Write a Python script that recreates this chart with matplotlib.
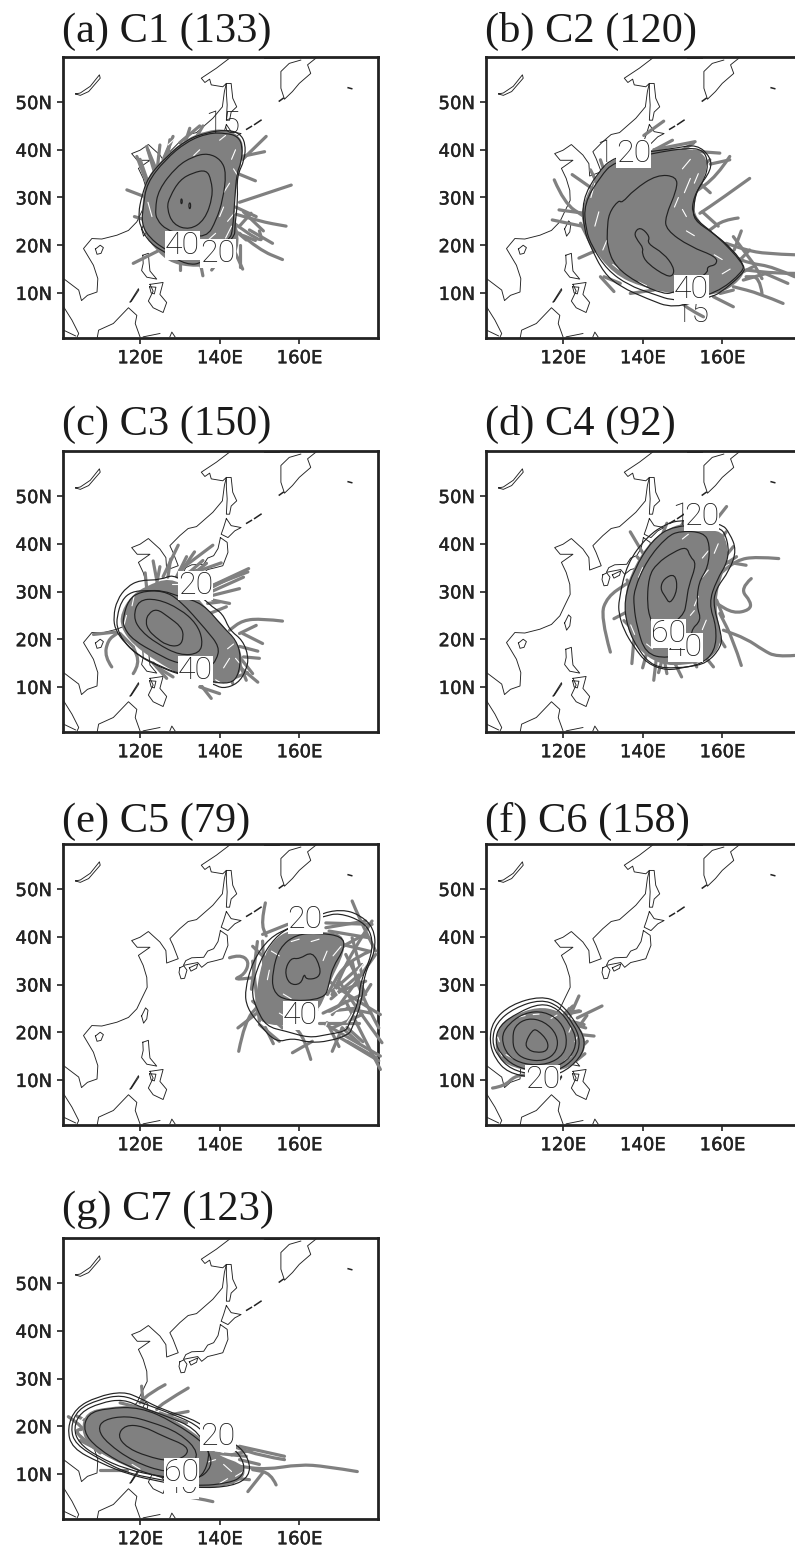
#!/usr/bin/env python3
"""Seven-panel track density maps C1-C7 (lon/lat read off the picture)."""
import matplotlib
matplotlib.use('Agg')
import matplotlib.pyplot as plt
import matplotlib.patheffects as pe
from matplotlib.path import Path
from matplotlib.patches import PathPatch

W, H = 795, 1551
GRAY = '#808080'
INK = '#222222'

# ── tick values ────────────────────────────────────────────────────────────
LON_TICKS = [120, 140, 160]
LON_LABELS = ['120E', '140E', '160E']
LAT_TICKS = [10, 20, 30, 40, 50]
LAT_LABELS = ['10N', '20N', '30N', '40N', '50N']

# ── coastlines, (lon, lat) ─────────────────────────────────────────────────
MAINLAND = [(142.5, 59.2), (139.2, 57.1), (135.4, 55), (136.3, 54.1), (137.5, 54.8), (137.9, 53.6),
            (140.8, 53.2), (141.7, 53.9), (141.2, 52.2), (140.7, 49), (138.3, 46.6), (134.2, 43.6),
            (132.1, 43.2), (130, 41.7), (127.5, 39.6), (128.3, 38.2), (129.6, 35.4), (126.7, 34.5),
            (126.5, 37.1), (125, 38.9), (122.1, 41.1), (120, 39.9), (117.9, 39.2), (119.3, 37.8),
            (122.5, 37.8), (119.6, 36.1), (120.8, 34), (121.7, 31.5), (121.8, 29.4), (120.4, 27),
            (119.2, 24.9), (117.1, 23.1), (114.2, 22.1), (110.4, 21.3), (107.9, 21.4), (105.8, 19.3),
            (108.3, 15.8), (109.4, 13), (109.2, 10.2), (106.8, 9.5), (105.3, 8.4), (104.6, 10.6),
            (100.8, 13)]
MALAY = [(100.8, 7.1), (102.9, 4.3), (104.6, 1.5), (104.2, 0.8)]
SUMATRA = [(100.8, 2.2), (103.8, 1)]
BORNEO = [(109.2, 0.4), (109.6, 2.2), (113.3, 3.6), (117.1, 6.9), (119.2, 5.3), (118.8, 3.6), (120, 0.8)]
SULAWESI = [(120.8, 0.8), (125, 1.5)]
HALMAHERA = [(127.5, 0.8), (128, 1.8), (128.8, 0.8)]
PALAWAN = [(117.5, 8.1), (119.6, 10.9), (119.7, 10.6), (117.8, 8.2), (117.5, 8.1)]
LUZON = [(120.7, 17.9), (122.1, 18.3), (122.3, 16.2), (122.5, 14.6), (124.2, 12.9), (121.7, 13.3),
         (120.4, 14.7), (120.8, 16.2), (120.7, 17.9)]
MINDANAO = [(122.5, 11.8), (125.8, 12.2), (125, 9.7), (126.7, 8), (125.8, 5.9), (123.3, 6.9),
            (122.1, 8.3), (123.3, 10.4), (122.5, 11.8)]
VISAYAS = [(122.4, 11.3), (124, 11.2), (123.6, 9.8), (122.8, 10), (122.4, 11.3)]
TAIWAN = [(120.4, 23.4), (121.4, 25.1), (122, 24.6), (121.7, 22.8), (120.9, 21.9), (120.4, 23.4)]
HAINAN = [(108.8, 19.2), (110, 20), (110.8, 19.5), (110.2, 18.3), (109.2, 18.1), (108.8, 19.2)]
SAKHALIN = [(141.7, 53.9), (142.9, 53.9), (143.3, 50.8), (144.3, 49), (142.9, 47.9), (142.5, 46.2),
            (141.7, 46.2), (141.9, 49.4), (141.7, 51.9), (141.7, 53.9)]
HOKKAIDO = [(141.7, 45.3), (142.9, 43.8), (145.4, 43.4), (143.8, 42.7), (142.1, 41.3), (140.4, 42),
            (141, 43.4), (141.7, 45.3)]
HONSHU = [(140.2, 41.3), (141.9, 40.3), (142.1, 38.2), (140.8, 35.4), (139, 35), (137, 34.6),
          (135.5, 33.6), (134.5, 34.6), (132, 34.2), (130.9, 34), (131.5, 35), (133, 35.6),
          (136, 35.7), (137, 37), (138.5, 37.5), (139.6, 39), (140, 40.5), (140.2, 41.3)]
SHIKOKU = [(132.4, 33.5), (134.5, 34.3), (134.2, 33.4), (132.8, 32.8), (132.4, 33.5)]
KYUSHU = [(130, 33.5), (131, 33.9), (131.8, 33), (131.2, 31.3), (130.3, 31.2), (129.8, 32.5), (130, 33.5)]
KAMCHATKA = [(164.2, 59.2), (162.1, 57.8), (162.9, 56), (160, 53.9), (158.3, 52.2), (156.3, 50.6),
             (155.4, 52.9), (155.4, 56.4), (157.5, 58.1), (160.4, 58.8)]
OKHOTSK_TOP = [(151.1, 59.2), (155, 59.2)]
BAIKAL = [(103.8, 51.7), (105, 51.4), (107.1, 52.2), (110, 55), (109.8, 55.7), (107.5, 53.3),
          (105, 51.9), (103.8, 51.7)]
COASTS = [MAINLAND, MALAY, SUMATRA, BORNEO, SULAWESI, HALMAHERA, PALAWAN, LUZON, MINDANAO, VISAYAS, TAIWAN,
          HAINAN, SAKHALIN, HOKKAIDO, HONSHU, SHIKOKU, KYUSHU, KAMCHATKA, OKHOTSK_TOP, BAIKAL]
ISLETS = [[(146.8, 44.3), (148, 44.9)], [(148.8, 45.3), (150.4, 46.2)],
          [(155, 50.2), (156, 50.8)], [(172.3, 53), (173.2, 52.8)]]

# ── C1 ─────────────────────────────────────────────────────────────────────
C1_CORE = [(120.8, 29.5), (122.1, 34.4), (126.7, 38.6), (131.7, 42.1), (136.7, 43.8), (141.7, 44.2),
           (145.8, 42.1), (145.4, 37.9), (143.8, 32.3), (143.3, 26.7), (145, 20.4), (142.5, 16.2),
           (135, 15.5), (128.3, 16.2), (124.2, 19), (120.8, 23.2)]
C1_CONTOURS = [
    [(119.6, 26.7), (120.4, 30.2), (122.1, 34.4), (126.7, 38.6), (131.7, 42.1), (136.7, 43.6), (141.7, 44.2),
     (145, 43.5), (146.5, 41.4), (146.3, 37.9), (144.3, 34.4), (144.6, 29.5), (143.8, 23.9), (143.8, 21.5),
     (135.8, 16.2), (131.7, 15.9), (126.7, 18.3), (122.5, 20.4), (120, 23.9)],
    [(120.8, 28.1), (121.7, 33), (126.3, 37.9), (131.7, 41.7), (137.1, 43.5), (141.7, 43.5), (144.6, 42.8),
     (145.8, 40.7), (145.4, 37.2), (144.3, 35.1), (143.8, 29.5), (143.3, 23.2), (142.5, 21.1), (134.2, 16.2),
     (126.3, 19), (122.1, 21.8), (120.4, 24.6)],
    [(123.8, 27.4), (124.6, 31.6), (129.2, 36.5), (133.3, 38.6), (137.1, 39.3), (140.4, 37.9), (141.7, 35.1),
     (140.8, 29.5), (139.2, 25.3), (136.7, 21.5), (130, 22.5), (126.7, 23.2), (124.2, 25.3)],
    [(126.7, 27.8), (127.5, 30.2), (130, 33.7), (133.3, 35.2), (136.7, 35.8), (137.9, 33.7), (138.3, 30.2),
     (136.3, 25.3), (132.5, 23.2), (128.3, 24.3)],
    [(130.2, 29.2), (130.4, 29.9), (130.7, 29.2), (130.4, 28.5)],
    [(132.2, 28.3), (132.5, 29.1), (132.8, 28.3), (132.5, 27.4)],
]
C1_TRACKS = [
    [(145, 29), (158, 32.6)], [(144.6, 35), (149, 33.5)], [(145, 38.5), (151.3, 39.6)],
    [(145.8, 38), (151.7, 42.8)], [(143.3, 26.7), (150, 25), (156.7, 24)], [(145, 22.5), (150, 19), (155.8, 17)],
    [(143, 25), (151, 20), (150, 23)], [(116.7, 31.6), (121.7, 30)], [(118.3, 16.2), (125, 19)],
    [(120, 38), (122.5, 32)], [(125, 41), (124.2, 35)], [(135, 45), (130, 41.5)], [(138, 14.8), (140, 17)],
    [(145.8, 15), (143.3, 19.6)], [(135.8, 13.6), (135, 17)], [(118.6, 26), (122.5, 25)],
    [(122, 40), (124, 36)], [(128, 42), (126, 38)], [(146, 27), (151, 23)], [(146, 22), (149, 21)],
    [(119.2, 38.6), (123.3, 29.5)], [(121.7, 40.7), (124.2, 33.7)], [(127.5, 42.1), (126.7, 36.5)],
    [(132.5, 44.5), (130.8, 40)], [(135.8, 45), (133.3, 41.4)], [(128.3, 42.8), (125.8, 37.9)],
    [(130, 14.8), (130, 18.3)], [(147.9, 26.7), (145, 24)], [(146.7, 21.1), (144, 23)], [(149.2, 26), (144, 28)],
    [(147.5, 23.2), (153.3, 20.4)], [(145, 15.5), (145, 20)],
]
C1_GAPS = [((140, 42), (141.5, 43)), ((143, 38), (144, 40)), ((141, 31), (142.5, 33)), ((140, 26), (141, 28)),
           ((127, 41), (129, 42.5)), ((137, 21), (139, 22.5)), ((122, 29), (123, 26)), ((144, 27), (142, 25)),
           ((143, 24), (141.5, 21.5)), ((135, 40), (133.5, 38.8)), ((143.5, 36), (145, 34))]
C1_LABELS = [('15', 140.8, 45.2, False), ('40', 130.6, 19.9, True), ('20', 139.6, 18.2, True)]

# ── C2 ─────────────────────────────────────────────────────────────────────
C2_CORE = [(125.3, 28.8), (129.4, 35.8), (134.4, 38.6), (142.8, 40), (154.4, 40), (156.5, 36.5), (152.8, 30.2),
           (152.8, 25.3), (161, 20.4), (165.6, 15.5), (164.4, 12.7), (158.6, 9.6), (148.6, 9.9), (140.3, 11.3),
           (132.8, 14.1), (126.9, 20.4), (124.8, 25.3)]
C2_CONTOURS = [
    [(124.8, 29.5), (128.6, 35.1), (132.8, 38.6), (142.8, 39.7), (148.6, 40.4), (153.6, 41.1), (157, 38.6),
     (157.3, 35.8), (153.6, 31.6), (152.8, 28.1), (152.8, 25.3), (157.8, 22.5), (162.8, 19), (165.7, 15.5),
     (165.3, 14.1), (159.4, 9.9), (157, 9.2), (147.8, 6.7), (141.1, 8.8), (134.4, 11.3), (130.3, 14.1),
     (126.9, 19.7), (125.3, 23.2)],
    [(125.3, 28.8), (129.4, 34.4), (132.8, 37.5), (142.8, 39.3), (151.1, 40.4), (155.3, 40), (156.5, 37.2),
     (155.7, 34), (152.8, 30.2), (152.3, 26), (158.6, 22.1), (165.3, 16.2), (165.3, 14.5), (158.6, 9.9),
     (148.6, 8.1), (142.2, 9.9), (136.5, 11.6), (131.1, 14.8), (127.3, 19.7), (125.7, 23.3)],
    [(131.1, 23.2), (131.5, 26.7), (134, 29.5), (134.8, 28.8), (137.8, 31.6), (143.6, 34.8), (148.6, 34.4),
     (148.6, 31.6), (145.7, 26), (145.9, 23.2), (151.9, 19.7), (158.6, 17.6), (158.6, 15.9), (156.1, 15.5),
     (156.5, 14.1), (147.8, 9.9), (144.8, 9.9), (138.9, 12), (133.1, 15.5), (131.1, 19.7)],
    [(137.8, 22.5), (139.4, 23.9), (141.9, 21.8), (141.1, 20.4), (145.3, 18.3), (147.8, 15.5), (147.8, 13.7),
     (146.1, 13.4), (141.1, 16.2), (139.8, 18.3), (140.2, 19.4), (138.8, 20.9)],
]
C2_TRACKS = [
    [(178.2, 18), (171, 18.2), (166, 19), (161, 20.4)], [(178.2, 13.4), (172.8, 15.5), (166.9, 16.2), (162.8, 17.6)],
    [(178.2, 14.1), (173.6, 14.1), (166, 14.8)], [(175.3, 7.8), (169.4, 9.9), (162.8, 11.3)],
    [(162.8, 7.1), (157.8, 9.2)], [(166.9, 34), (159.4, 29.5), (154.4, 26.7)], [(161.9, 38.6), (158.6, 34.4), (152.8, 30.9)],
    [(161.9, 37.9), (157, 37)], [(164, 25.7), (160.3, 25.3), (156.9, 23.2)], [(159.4, 39.3), (152.8, 39.7)],
    [(145.3, 46), (140.3, 43)], [(153.2, 41.7), (142.8, 40)], [(117.8, 33.7), (120.3, 28.8), (125.3, 26)],
    [(117.3, 25.3), (125.3, 23.9)], [(119, 27.4), (125.3, 26.7)], [(122.3, 34.8), (127.8, 31.6)],
    [(124, 17.3), (128.6, 19)], [(132.8, 10.3), (129.4, 13.4)], [(176.5, 12), (171, 14)],
    [(155.3, 5), (151.1, 6.8), (149.4, 8.5)], [(170, 9.9), (169.4, 13.4), (166, 13.4)],
    [(164.8, 23), (163, 19)], [(170, 13), (168, 16)], [(147.5, 42), (143, 40)],
    [(129.4, 37.9), (131.1, 33.7)], [(126.9, 35.8), (129.4, 31.6)], [(152.8, 41.4), (146.1, 37.9)],
    [(156.9, 37.9), (151.9, 34.4)], [(124.4, 24.6), (127.8, 19)], [(130.3, 13.4), (134.4, 12)],
    [(136.9, 9.9), (142.8, 10.6)], [(166.9, 19), (162.8, 15.5)], [(167.8, 15.5), (162.8, 13.4)],
    [(162.8, 10.6), (159.5, 9.9)], [(165.3, 12.7), (171.1, 14.1)], [(162.8, 21.8), (167.8, 16.2)],
    [(159, 24), (155, 27)], [(157, 31), (153, 34)],
]
C2_GAPS = [((127, 30), (128, 33)), ((130, 19), (131, 21)), ((132.5, 16), (134, 15)), ((139, 12.3), (141, 11.5)),
           ((154, 35), (153, 33)), ((152, 34), (150.5, 31)), ((150, 36), (152, 38)), ((158, 18), (160, 17)),
           ((162, 15), (160, 14)), ((153, 22), (151, 23)), ((148, 28), (149, 30)), ((151, 26), (150, 27.5)),
           ((156, 12), (154, 11)), ((128, 24), (129, 27)), ((150, 13), (152, 12))]
C2_LABELS = [('15', 132.8, 39.3, False), ('20', 137.8, 39.3, True), ('15', 152.3, 5.7, False), ('40', 152.3, 10.8, True)]

# ── C3 ─────────────────────────────────────────────────────────────────────
C3_CORE = [(115.4, 25.4), (117.9, 28.9), (121.7, 31), (127.5, 32.7), (132.5, 30.3), (136.7, 26.1), (141.7, 21.9),
           (145.8, 17), (144.6, 11.4), (138.3, 10.7), (130, 12.8), (124.2, 15.6), (118.3, 19.1), (115.4, 22.6)]
C3_CONTOURS = [
    [(113.3, 24.7), (114.2, 28.2), (116.7, 31), (120, 32.4), (125, 32.4), (129.2, 33.8), (137.5, 27.1), (140.8, 25.4),
     (142.5, 21.9), (145.8, 19.8), (147.3, 16.3), (146.7, 13.5), (144.6, 10.7), (140.8, 9.6), (138.3, 10.7),
     (129.2, 12.8), (125, 14.2), (120, 16.3), (116.3, 19.1), (113.8, 21.9)],
    [(114.2, 24.7), (115.4, 28.2), (117.9, 30), (121.7, 30.2), (125.8, 30.2), (130, 28.9), (135.8, 27.5), (140.8, 22.6),
     (144.2, 19.8), (145.4, 16.3), (144.6, 12.1), (142.5, 10.7), (138.3, 11), (129.2, 12.9), (124.2, 14.7),
     (119.2, 16.8), (115.8, 19.6), (114.2, 22.4)],
    [(115.8, 24.7), (117.1, 28.2), (120, 30), (125.8, 30.2), (130, 28.2), (136.7, 21.9), (140, 18.4), (139.2, 15.6),
     (137.5, 14.2), (129.2, 14.9), (124.2, 17), (118.3, 19.8), (115.8, 22.6)],
    [(118.3, 24.7), (119.6, 28.2), (124.2, 28.5), (130, 26.4), (134.2, 23.3), (135.8, 19.8), (135, 17), (130, 16.6),
     (124.2, 19.1), (120, 21.9)],
    [(121.4, 23.6), (122.1, 25.4), (124.2, 26.4), (127.1, 24.7), (130.4, 22.6), (131, 20.5), (130, 18.5), (126.7, 18.7),
     (123.8, 20.5), (122.1, 21.9)],
]
C3_TRACKS = [
    [(147.3, 34.8), (138.3, 31.3)], [(147.1, 34.1), (137.5, 31)], [(145, 30.6), (138.3, 29.2)], [(146, 33), (138, 30)],
    [(138.3, 39.7), (130, 34.5)], [(129.6, 39.7), (125.8, 33.1)], [(133.7, 38.3), (130, 33.8)], [(140.4, 36), (133, 33.8)],
    [(123.3, 36.4), (124.2, 32.4)], [(121.3, 33.9), (121.7, 30.4)], [(135.8, 36.5), (131, 33)],
    [(127.7, 36.8), (127, 33)], [(137, 27.5), (140, 27.8)],
    [(155.8, 23.8), (150.8, 24.3), (145.8, 24), (142.5, 21.9)], [(149.2, 22.9), (145, 21.2)], [(150.8, 19.1), (145.8, 21.2)],
    [(149.6, 17.5), (145, 18.5)], [(150, 16), (146, 16.3)], [(149.6, 11), (145, 14.2)], [(140, 8.6), (135, 10)],
    [(137.9, 7.6), (135, 10.7)], [(112.9, 14.2), (111.1, 16.3), (111.9, 19.8), (114.2, 21.2)], [(108.3, 21), (113.8, 21.5)],
    [(118.3, 12.8), (120, 14.9), (118.3, 18.4)], [(126.7, 11.8), (123.3, 15)], [(147, 13), (144, 12)],
    [(115, 21.2), (118.3, 18.4)], [(124.2, 14.2), (128.3, 12.1)], [(125, 35.2), (124.2, 31.7)], [(131.7, 37.3), (129.2, 33.1)],
    [(136.7, 35.9), (132.5, 33.1)], [(143.3, 33.1), (138.3, 31)], [(142.5, 27.5), (138.3, 28.2)], [(141.7, 26.8), (137.5, 25.4)],
    [(146.7, 11.4), (145, 14.9)], [(148.3, 12.8), (145, 16.3)], [(143.3, 10.7), (141.7, 15.6)],
]
C3_GAPS = [((142, 18), (143.5, 19)), ((141, 14), (142.5, 16)), ((144, 16), (145, 15)), ((139, 11.5), (141, 10.5)),
           ((118, 27), (118.5, 29)), ((116, 23), (116.6, 25)), ((128, 31.5), (130, 31.5))]
C3_LABELS = [('20', 133.9, 31.2, True), ('40', 133.9, 13.5, True)]

# ── C4 ─────────────────────────────────────────────────────────────────────
C4_CORE = [(135.7, 28.2), (136.9, 33.1), (141.1, 39.4), (146.1, 42.9), (151.1, 44.3), (156.9, 42.6), (160.3, 42.2),
           (161.5, 37.3), (158.6, 31), (158.2, 25.4), (159.9, 19.8), (157, 15.9), (151.1, 14.8), (144.4, 14.8),
           (138.6, 18.3), (136.1, 23.2)]
C4_CONTOURS = [
    [(134, 28.2), (136.1, 35.9), (141.1, 41.5), (146.1, 44.3), (150.3, 45), (159.8, 44.3), (161.9, 42.2), (163.6, 38.7),
     (161.9, 34.5), (158.2, 30.3), (157.8, 26.8), (159.8, 21.2), (159.8, 18.4), (156.1, 14.9), (151.1, 14.2), (146.1, 13.4),
     (141.1, 14.9), (137.8, 18.4), (135.3, 21.9), (134, 25.4)],
    [(135.3, 28.2), (137.8, 34.5), (142.4, 40.8), (147.8, 43.9), (159.4, 43.9), (161.5, 40.6), (161.5, 36.4), (158.6, 32.4),
     (156.6, 27.5), (158.6, 22.6), (158.2, 17.4), (154.4, 14.6), (148.6, 13.9), (142.8, 14.2), (139, 17.6), (136.1, 22.6)],
    [(137.8, 26.8), (137.8, 30.3), (141.1, 36.6), (146.1, 41.5), (149.4, 42.7), (155.3, 42.4), (156.9, 40), (156.5, 35.1),
     (154, 31.9), (153.6, 26.8), (154.8, 24), (151.9, 21.8), (152.8, 17.7), (146.1, 15.9), (140.7, 17), (138.6, 22.6)],
    [(141.1, 26.8), (141.5, 33.1), (143.6, 35.9), (147.8, 38.3), (151.1, 39.4), (151.9, 37.3), (153.6, 35.9), (151.5, 31),
     (151.1, 28.2), (150.3, 24.7), (143.3, 21.2), (142.4, 23.3)],
    [(144.4, 30.6), (145.3, 32.7), (148.2, 33.8), (148.8, 30.3), (146.9, 27.3), (145.7, 28.9)],
]
C4_TRACKS = [
    [(174.2, 36.9), (168.6, 37.3), (163.6, 36.6), (158.6, 33.1)], [(178.2, 16.6), (173.6, 16.3), (170.3, 17.7), (166.1, 20.1), (160.3, 21.9)],
    [(167.3, 32.7), (164.4, 30.6), (167.3, 27.8), (166.9, 26.1), (162.8, 25.4), (158.6, 27.5)], [(164.8, 14.5), (162.8, 19.8), (159.4, 25.4)],
    [(131.9, 17.3), (129.4, 24.7), (131.1, 28.9), (136.1, 31.7)], [(132.8, 24.3), (136.9, 26.1)], [(136.9, 42.5), (141.1, 36.6)],
    [(137.3, 14.9), (137.8, 19.8)], [(142.8, 11.4), (143.6, 17)], [(149.8, 12.1), (146.9, 17)], [(161.1, 47.8), (157.8, 44.3)],
    [(161, 42.5), (157, 38)], [(157.8, 14.2), (154.4, 17.7)], [(166, 35.5), (159, 36.5)], [(144, 13), (145, 16)],
    [(140, 14), (141, 17)], [(136.1, 32.4), (137.8, 28.2)], [(138.6, 37.3), (141, 35)], [(146.1, 44.3), (144.4, 40.8)],
    [(150.3, 44.6), (147.8, 40.8)], [(162.8, 39.4), (159.4, 35.9)], [(163.6, 37.3), (158.6, 34.5)], [(160.3, 24.7), (158.6, 28.2)],
    [(160.7, 18.4), (158.6, 21.2)], [(153.6, 14.2), (151.9, 17)], [(146.1, 12.8), (145.3, 16.3)], [(135.3, 23.9), (137.8, 21.8)],
]
C4_GAPS = [((150, 41), (151.5, 42)), ((155, 37), (156.5, 38.5)), ((155, 33), (156.5, 34.5)), ((153, 27), (154, 29)),
           ((156, 24), (155, 22)), ((137, 23), (138, 21)), ((139, 33), (140, 35)), ((158, 38), (159, 40)), ((152, 25), (153, 26)),
           ((141, 19), (142.5, 18)), ((147, 16), (149, 15.5))]
C4_LABELS = [('15', 151.9, 45.7, False), ('20', 154.8, 45.7, True), ('40', 150.8, 18.3, True), ('60', 146.5, 21.2, True)]

# ── C5 ─────────────────────────────────────────────────────────────────────
C5_CORE = [(149.2, 26.5), (150.8, 34.9), (154.2, 39.8), (159.2, 41.5), (165, 40.8), (170.8, 40.5), (171.3, 37), (167.5, 30.7),
           (165.8, 26.5), (162.5, 21.6), (151.7, 21.6), (149.2, 23.8)]
C5_CONTOURS = [
    [(146.3, 28.6), (148.3, 34.9), (152.5, 39.8), (157.5, 41.9), (165.8, 45), (170.8, 45.7), (175, 44.7), (178.8, 41.9), (179.2, 37),
     (176.3, 32.1), (175.8, 26.5), (173.3, 20.9), (172.5, 19.5), (167.5, 18.1), (162.5, 17.8), (158.3, 18.8), (154.2, 17.8), (150, 21.6), (146.9, 25.1)],
    [(147.9, 28.6), (150, 34.9), (153.8, 39.8), (158, 42.2), (166.3, 44.3), (170, 45), (175.8, 43.3), (178.3, 40.5), (178.3, 36.3),
     (175.4, 30.7), (175, 26.5), (172.5, 21.6), (171.7, 20.2), (167, 19.5), (162.5, 18.8), (156.7, 20.2), (151.7, 21.2), (149.2, 25.1)],
    [(153.3, 32.8), (155, 37.7), (159.2, 40.5), (165, 40.8), (170.8, 40.1), (171.5, 37.7), (168.3, 33.5), (167.5, 30), (166.3, 26.9),
     (156.7, 26.5), (153.3, 28.6)],
    [(156.3, 32.8), (157.9, 35.6), (160, 35.3), (163.3, 37), (165.4, 33.5), (165, 31.4), (161.7, 31), (161.3, 32.4), (160.4, 30), (157.5, 30)],
]
C5_TRACKS = [
    [(180.4, 23.7), (173.3, 27.2), (167.5, 30.7)], [(180.8, 17.8), (175, 24.4), (170, 30.7)], [(180.4, 12.2), (175.8, 19.5), (171.7, 26.5)],
    [(180.4, 15), (172.5, 18.8), (166.7, 21.6)], [(180, 20.9), (175, 28.6), (173.3, 34.9)], [(179.2, 36.3), (173.3, 29.3), (168.3, 23.7)],
    [(178.3, 43.3), (173.3, 37), (168.3, 27.9)], [(173.3, 47.5), (175, 44), (179.2, 37)], [(176.7, 40.5), (169.2, 37.7), (165, 32.1)],
    [(177.9, 37), (171.7, 34.9), (167.1, 27.9)], [(166.7, 42.9), (178.3, 42.6)], [(166.7, 41.9), (176.7, 43.3)], [(175, 32), (168, 27)],
    [(168.3, 16), (170.8, 20.9)], [(162.9, 14.3), (161.3, 18.8), (158.3, 21.6)], [(158.3, 15.7), (163.3, 18.1)],
    [(176, 28), (166, 24)], [(175, 22), (165, 22)], [(172, 25), (178, 24)], [(180, 14), (170, 19)], [(178, 30), (172, 22)],
    [(144.8, 16), (146.3, 22.3), (150, 25.8)], [(144.6, 20.9), (150, 24.4)], [(151.5, 47.1), (150.4, 43), (151.7, 40.2)],
    [(142.5, 35.6), (145, 36.3), (147.5, 34.9), (146.3, 32.1), (143.3, 31), (148.3, 31.4)], [(157.1, 42.6), (150.8, 40.5)],
    [(148.3, 38), (152, 35)], [(153.5, 17.6), (151.5, 21)], [(149.5, 39), (148, 29)], [(170, 17), (167, 22)], [(176, 18), (172, 21)],
    [(148.3, 34.9), (150, 22.3)], [(150.8, 39.1), (151.7, 22.3)], [(148.3, 26.5), (155.8, 20.9)], [(150, 21.6), (155, 18.1)],
    [(175, 25.1), (167.5, 24.4)], [(168.3, 27.9), (176.7, 30.7)], [(168.3, 20.9), (175.8, 23.7)], [(170.8, 38.4), (177.5, 37)],
    [(167.5, 41.2), (177.5, 39.8)], [(175.8, 34.2), (168.3, 28.6)], [(173.3, 39.8), (175.8, 32.1)], [(171.7, 36.3), (176.7, 27.9)],
    [(170.8, 20.9), (175, 17.8)], [(172, 18.1), (179.5, 14.6)],
]
C5_GAPS = [((168.5, 36), (170.5, 38)), ((166, 35), (167, 37)), ((163, 39), (165, 39.5)), ((158, 39), (160, 39.5)), ((155, 24), (157, 23)),
           ((152, 31), (152.5, 33)), ((174.8, 33), (176.8, 35)), ((164, 24), (166, 26)), ((169, 29), (170.5, 27)), ((172, 22), (173.5, 24)),
           ((168, 24), (170, 25)), ((156, 28), (158, 27)), ((153, 37), (155, 36)), ((166, 20), (167, 22))]
C5_LABELS = [('20', 161.5, 43.6, True), ('40', 160.4, 23.4, True)]

# ── C6 ─────────────────────────────────────────────────────────────────────
C6_CORE = [(103.2, 18.1), (104.4, 21.6), (107.8, 23.4), (113.6, 25.1), (118.6, 24.4), (123.6, 21.6), (125.7, 18.1), (124.4, 14.6),
           (120.3, 12.2), (112.8, 11.8), (106.1, 13.2), (103.6, 15.3)]
C6_CONTOURS = [
    [(101.5, 18.1), (102.3, 22.3), (106.9, 25.8), (114.4, 27.6), (119.4, 26.2), (123.6, 21.6), (125.7, 18.1), (124.4, 14.6), (119.4, 11.1),
     (112.8, 10.4), (106.1, 11.5), (102.8, 14.6)],
    [(102.1, 18.1), (103.2, 22), (107.8, 25.1), (114.4, 26.9), (119, 25.5), (122.8, 21.6), (124.4, 18.1), (123.2, 14.6), (118.6, 11.8),
     (112.8, 11), (106.9, 12.2), (103.6, 15)],
    [(102.9, 18.1), (104, 21.4), (108.6, 24.1), (114.4, 26.1), (118.6, 25), (121.9, 21.6), (123.6, 18.1), (121.9, 14.6), (117.8, 12.5),
     (112.8, 11.8), (107.8, 12.9), (104.4, 15.3)],
    [(104.4, 18.8), (106.1, 21.6), (110.3, 24.1), (115.3, 24.4), (119.4, 22.3), (121.1, 18.8), (120.3, 15.3), (116.1, 13.2), (110.3, 13.2), (106.1, 15)],
    [(107.3, 18.5), (107.8, 21.3), (111.1, 23), (115.3, 22.3), (118.6, 19.5), (118.6, 16), (115.3, 13.9), (110.3, 14.3), (107.8, 16)],
    [(110.5, 17.8), (112.3, 20.5), (113.6, 20.5), (116.3, 18.1), (116.1, 16), (113.2, 15.7), (111.1, 16.4)],
]
C6_TRACKS = [
    [(124, 27.6), (121.9, 23.7)], [(129.8, 25.5), (123.6, 23)], [(127.8, 19.2), (124.4, 19.5)], [(125.3, 21.6), (122, 22.3)],
    [(125.5, 15.5), (123.4, 14.1)], [(102.3, 8.3), (105.3, 8.7), (107.8, 10.8), (111.1, 11.1)], [(122.5, 25.5), (120.5, 24)],
    [(126, 23.5), (123, 20)], [(124, 24.5), (121, 24)], [(124.4, 24.4), (120.3, 23.7)], [(125.7, 20.9), (122.8, 21.6)], [(126.1, 18.1), (123.6, 16)],
]
C6_GAPS = [((109, 23.2), (110.5, 23.5)), ((112.5, 23.7), (114, 23.8)), ((103.6, 19), (104, 18)), ((104, 16), (104.7, 15)), ((105.7, 15.3), (107.5, 14.5)),
           ((121.5, 20), (122, 21)), ((123, 18), (123.5, 19)), ((120.5, 14), (122, 15)), ((106, 12.6), (108, 12.3)), ((117, 22.9), (118.5, 23.6))]
C6_LABELS = [('20', 114.8, 10, True)]

# ── C7 ─────────────────────────────────────────────────────────────────────
C7_CORE = [(105.4, 19.3), (106.7, 22.8), (111.7, 23.8), (120, 24.2), (128.3, 21.4), (136.7, 16.5), (139.2, 13.7), (146.7, 11.6), (145, 8.1),
           (135, 7), (125, 9.5), (116.7, 11.6), (107.5, 15.8)]
C7_CONTOURS = [
    [(101.7, 19.6), (103.8, 23.8), (109.2, 26.2), (115.8, 27.3), (120, 25.9), (125.8, 23.4), (135, 21), (138.3, 17.7), (144.2, 16.5), (147.5, 13),
     (147.5, 9.5), (143.3, 7.4), (134.2, 7), (125, 8.4), (117.5, 9.8), (110, 12.3), (102.9, 15.4)],
    [(102.5, 19.6), (104.3, 23.5), (109.6, 25.6), (115.4, 26.6), (120.4, 24.9), (126.7, 23), (134.2, 20.4), (137.5, 17.2), (143.3, 15.8), (146.3, 12.3),
     (145.8, 9.5), (142.5, 8.1), (134.2, 7.4), (125, 8.8), (116.7, 10.2), (110, 13), (103.8, 16.2)],
    [(103.3, 19.6), (105, 22.9), (110, 24.9), (115.8, 25.7), (120.8, 23.8), (126.7, 22.1), (133.8, 19.6), (137.1, 15.1), (138.3, 11.6), (134.2, 8.5),
     (125, 9.5), (116.7, 10.9), (109.2, 13.7), (104.6, 16.5)],
    [(105.7, 18.9), (106.8, 22.6), (111.7, 23.8), (120, 24), (128.3, 21), (136.7, 16.1), (137.5, 13.7), (135.8, 9.5), (131.7, 8.1), (124.2, 9.5),
     (116.7, 11.6), (109.2, 15.4)],
    [(109.4, 19.3), (110.8, 21.4), (116.7, 22.2), (122.5, 21), (130, 18.6), (135, 14.4), (132.5, 11.2), (126.7, 10.2), (118.3, 12.6), (111.7, 16.5)],
    [(114.3, 18), (116.3, 20.3), (120.8, 20), (125.8, 17.9), (132.1, 15.8), (131.7, 13.7), (127.5, 12.6), (121.7, 13.7), (116.7, 15.5)],
]
C7_TRACKS = [
    [(174.6, 10.5), (166.7, 11.6), (160, 12), (151.7, 10.9), (145, 11.6)], [(156.3, 13), (150.8, 13.7), (143.3, 15.8)], [(156.3, 13.7), (145, 15.8)],
    [(154.2, 7.7), (152.9, 10.2), (148.3, 10.9)], [(147.1, 6.3), (150.8, 10.2)], [(138.3, 4.2), (134.2, 5), (126.7, 5.7)],
    [(126.3, 28.7), (122.5, 27), (120, 24.9)], [(132.1, 28), (125.8, 24.9), (124.2, 23.5)], [(120.4, 28.4), (120.8, 24.9)], [(132.1, 23.1), (125.8, 22.1)],
    [(110, 10.9), (116.7, 10.9)], [(102, 22), (106.7, 19.3), (103.3, 19.3), (106.7, 16.5)], [(147.5, 8.8), (138.3, 9.5)], [(148, 15), (143, 14)],
    [(145, 13), (150, 12)], [(142, 16), (136, 17)], [(105, 17), (112, 14)], [(104.2, 22.1), (107.5, 20.7)], [(105, 17.9), (110, 14.4)],
    [(136.7, 10.9), (143.3, 8.1)], [(135, 12.3), (145, 10.2)], [(138.3, 14.4), (146.7, 13.7)], [(115, 24.9), (121.7, 23.5)], [(125, 22.8), (131.7, 20.7)],
]
C7_GAPS = [((141, 12), (143, 10.5)), ((144, 9.5), (146, 10.5)), ((139, 15), (141, 14.5)), ((137, 12.5), (139, 13)), ((118, 12), (120, 11)),
           ((105, 21), (106, 22)), ((111, 13.3), (113, 12.5)), ((140, 8), (142, 9))]
C7_LABELS = [('20', 139.6, 17.9, True), ('40', 130.4, 7.8, True), ('60', 130.4, 10.2, True)]

# ── panel table: title, axes box (left, top px), title baseline px ──────────
PANELS = [
    ('(a) C1 (133)', 63, 57, 42, C1_CORE, C1_CONTOURS, C1_TRACKS, C1_GAPS, C1_LABELS),
    ('(b) C2 (120)', 486, 57, 42, C2_CORE, C2_CONTOURS, C2_TRACKS, C2_GAPS, C2_LABELS),
    ('(c) C3 (150)', 63, 451, 435, C3_CORE, C3_CONTOURS, C3_TRACKS, C3_GAPS, C3_LABELS),
    ('(d) C4 (92)', 486, 451, 435, C4_CORE, C4_CONTOURS, C4_TRACKS, C4_GAPS, C4_LABELS),
    ('(e) C5 (79)', 63, 844, 832, C5_CORE, C5_CONTOURS, C5_TRACKS, C5_GAPS, C5_LABELS),
    ('(f) C6 (158)', 486, 844, 832, C6_CORE, C6_CONTOURS, C6_TRACKS, C6_GAPS, C6_LABELS),
    ('(g) C7 (123)', 63, 1238, 1220, C7_CORE, C7_CONTOURS, C7_TRACKS, C7_GAPS, C7_LABELS),
]
AX_W, AX_H = 315, 281


def xy(points):
    return [p[0] for p in points], [p[1] for p in points]


def mid(a, b):
    return ((a[0] + b[0]) / 2, (a[1] + b[1]) / 2)


def loop_path(points):
    # read points act as quadratic control points, so the line rounds the corners
    n = len(points)
    verts = [mid(points[-1], points[0])]
    codes = [Path.MOVETO]
    for i in range(n):
        verts += [points[i], mid(points[i], points[(i + 1) % n])]
        codes += [Path.CURVE3, Path.CURVE3]
    return Path(verts, codes)


def open_path(points):
    verts = [points[0]]
    codes = [Path.MOVETO]
    for i in range(1, len(points) - 1):
        verts += [points[i], mid(points[i], points[i + 1])]
        codes += [Path.CURVE3, Path.CURVE3]
    verts.append(points[-1])
    codes.append(Path.LINETO)
    return Path(verts, codes)


fig = plt.figure(figsize=(W / 100, H / 100), dpi=100, facecolor='white')
thicker = [pe.withStroke(linewidth=0.3, foreground=INK)]

for title, left, top, base, core, contours, tracks, gaps, labels in PANELS:
    ax = fig.add_axes([left / W, 1 - (top + AX_H) / H, AX_W / W, AX_H / H])
    ax.set_xlim(100.65, 179.8)
    ax.set_ylim(0.56, 59.44)

    for coast in COASTS:
        ax.plot(*xy(coast), color=INK, lw=0.65, zorder=1)
    for islet in ISLETS:
        ax.plot(*xy(islet), color=INK, lw=1.1, zorder=1)

    # dense part of the tracks, then the single tracks that stick out
    ax.add_patch(PathPatch(loop_path(core), fc=GRAY, ec=GRAY, lw=1.5, zorder=2))
    for track in tracks:
        ax.add_patch(PathPatch(open_path(track), fc='none', ec=GRAY, lw=2.3, capstyle='round',
                               joinstyle='round', zorder=3, clip_on=False))
    for gap in gaps:
        ax.plot(*xy(gap), color='white', lw=0.8, solid_capstyle='round', zorder=4)
    for contour in contours:
        ax.add_patch(PathPatch(loop_path(contour), fc='none', ec=INK, lw=0.85, zorder=5))

    for i, (text, lon, lat, boxed) in enumerate(labels):
        box = dict(fc='white', ec='none', pad=0.0) if boxed else None
        ax.text(lon, lat, text, ha='center', va='center', fontsize=23, color='#1a1a1a',
                family='Roboto', fontweight='light', bbox=box, zorder=6 + i)

    ax.set_xticks(LON_TICKS)
    ax.set_xticklabels(LON_LABELS)
    ax.set_yticks(LAT_TICKS)
    ax.set_yticklabels(LAT_LABELS)
    ax.tick_params(direction='out', length=4.5, width=1.2, color=INK, labelcolor=INK, labelsize=13, pad=3.6)
    for lab in ax.get_xticklabels() + ax.get_yticklabels():
        lab.set_path_effects(thicker)
    for spine in ax.spines.values():
        spine.set_linewidth(2.0)
        spine.set_color(INK)

    fig.text((left - 1) / W, 1 - base / H, title, family='Liberation Serif', fontsize=30.5, color='#1a1a1a',
             ha='left', va='baseline', zorder=-1)

fig.savefig('out.png', dpi=100, facecolor='white')
plt.close(fig)
